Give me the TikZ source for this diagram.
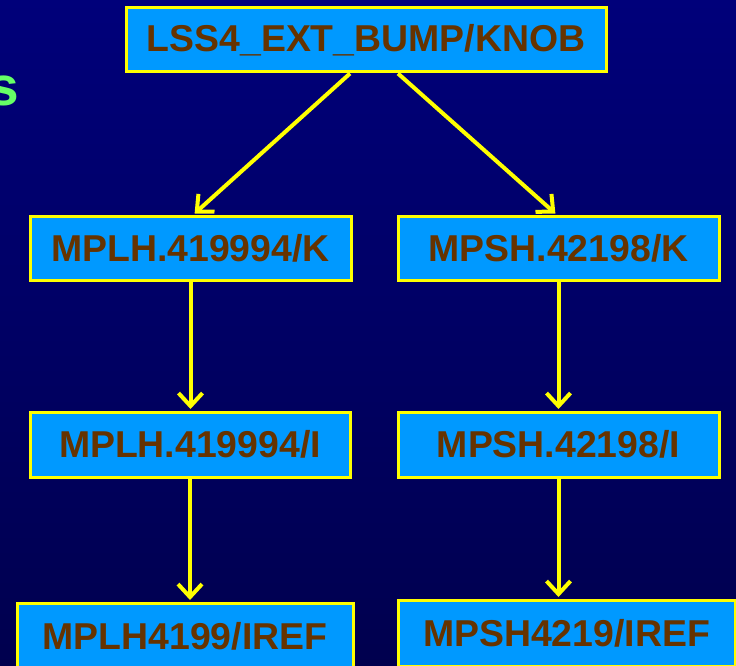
\documentclass[tikz,border=0pt]{standalone}
\usepackage{fontspec}
\setmainfont{Liberation Sans}
\usetikzlibrary{arrows.meta}
\definecolor{bgtop}{HTML}{00007A}
\definecolor{bgbot}{HTML}{00004E}
\definecolor{boxfill}{HTML}{0099FF}
\definecolor{boxline}{HTML}{FFFF00}
\definecolor{labeltext}{HTML}{663300}
\definecolor{headgreen}{HTML}{66FF66}
\tikzset{
  x=1pt, y=-1pt,
  varbox/.style={draw=boxline, line width=3pt, fill=boxfill, text=labeltext,
    font=\fontsize{37.4}{42}\selectfont\bfseries, inner sep=0pt,
    minimum height=64pt},
  flow/.style={draw=boxline, line width=4pt,
    -{Straight Barb[length=13pt,width=24pt,line width=4pt]}, shorten >=1.5pt},
}
\begin{document}
\begin{tikzpicture}
  \useasboundingbox (0,0) rectangle (736,666);
  \clip (0,0) rectangle (736,666);
  \shade[top color=bgtop, bottom color=bgbot] (0,0) rectangle (736,666);

  % tail of the heading running in from the left
  \node[text=headgreen, font=\fontsize{55}{60}\selectfont\bfseries, anchor=base east,
    inner sep=0pt] (head) at (19,105.5) {s};

  % knob and its elements
  \node[varbox, minimum width=480pt] (knob) at (366,40) {LSS4\_EXT\_BUMP/KNOB};
  \node[varbox, minimum width=321pt] (lk) at (190.5,248) {MPLH.419994/K};
  \node[varbox, minimum width=321pt] (rk) at (558.5,248) {MPSH.42198/K};
  \node[varbox, minimum width=320pt, minimum height=65pt] (li) at (190,444.5) {MPLH.419994/I};
  \node[varbox, minimum width=321pt, minimum height=65pt] (ri) at (558.5,444.5) {MPSH.42198/I};
  \node[varbox, minimum width=336pt, minimum height=66pt] (liref) at (185,636) {MPLH4199/IREF};
  \node[varbox, minimum width=337pt, minimum height=66pt] (riref) at (566.5,633) {MPSH4219/IREF};

  % connectors
  \draw[flow] ([xshift=-16pt]knob.south) -- ([xshift=3pt]lk.north);
  \draw[flow] ([xshift=32pt]knob.south) -- ([xshift=-2pt]rk.north);
  \draw[flow] (lk.south) -- (lk.south |- li.north);
  \draw[flow] (rk.south) -- (rk.south |- ri.north);
  \draw[flow] (li.south) -- (li.south |- liref.north);
  \draw[flow] (ri.south) -- (ri.south |- riref.north);
\end{tikzpicture}
\end{document}
